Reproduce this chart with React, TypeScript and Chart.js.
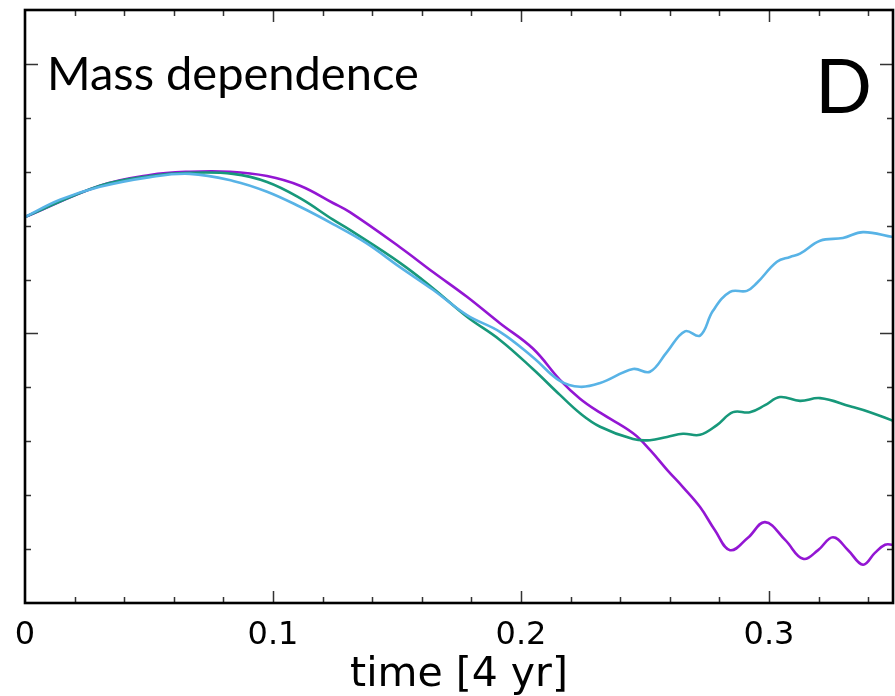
import React, { useEffect, useRef } from "react";
import { Chart, registerables } from "chart.js";

Chart.register(...registerables);

// ---- data (time in units of 4 yr, value in y-tick units) ----
const xTickLabels = ["0", "0.1", "0.2", "0.3"];
const xAxisTitle = "time [4 yr]";
const panelLabel = "Mass dependence";
const panelLetter = "D";

const cyanTime = [0, 0.0141, 0.0302, 0.0504, 0.0665, 0.0839, 0.0976, 0.1109, 0.1242, 0.1375, 0.1512, 0.1645, 0.1782, 0.1915, 0.2048, 0.2157, 0.2238, 0.2319, 0.2452, 0.252, 0.2589, 0.2661, 0.2722, 0.2774, 0.2843, 0.2911, 0.2952, 0.3032, 0.3085, 0.3125, 0.3206, 0.3298, 0.3379, 0.35];
const cyanValue = [7.16, 7.48, 7.72, 7.9, 7.96, 7.83, 7.63, 7.35, 7.03, 6.68, 6.23, 5.81, 5.34, 5.03, 4.56, 4.12, 4.01, 4.08, 4.34, 4.29, 4.66, 5.04, 4.96, 5.42, 5.77, 5.79, 5.94, 6.33, 6.42, 6.48, 6.72, 6.77, 6.88, 6.79];

const greenTime = [0, 0.0302, 0.0504, 0.0665, 0.0839, 0.0976, 0.1109, 0.1242, 0.131, 0.1512, 0.1645, 0.1782, 0.1915, 0.2048, 0.2157, 0.2238, 0.2319, 0.2452, 0.252, 0.2589, 0.2653, 0.2722, 0.279, 0.2855, 0.2923, 0.2984, 0.3044, 0.3125, 0.3206, 0.3327, 0.3407, 0.35];
const greenValue = [7.16, 7.74, 7.92, 7.98, 7.96, 7.81, 7.51, 7.11, 6.92, 6.31, 5.84, 5.31, 4.88, 4.34, 3.86, 3.52, 3.27, 3.04, 3.02, 3.08, 3.14, 3.12, 3.3, 3.54, 3.54, 3.67, 3.82, 3.75, 3.8, 3.65, 3.54, 3.38];

const purpleTime = [0, 0.0302, 0.0504, 0.0665, 0.0827, 0.0976, 0.1109, 0.1242, 0.131, 0.1512, 0.1645, 0.1782, 0.1915, 0.2048, 0.2157, 0.2238, 0.2319, 0.2452, 0.252, 0.2589, 0.2653, 0.2722, 0.2782, 0.2843, 0.2915, 0.2984, 0.3065, 0.3137, 0.3198, 0.3258, 0.3319, 0.3379, 0.3427, 0.3468, 0.35];
const purpleValue = [7.16, 7.74, 7.94, 8.0, 8.0, 7.92, 7.74, 7.42, 7.25, 6.6, 6.14, 5.68, 5.19, 4.72, 4.14, 3.79, 3.53, 3.15, 2.84, 2.47, 2.15, 1.78, 1.35, 0.98, 1.21, 1.5, 1.17, 0.82, 0.98, 1.22, 0.98, 0.71, 0.93, 1.08, 1.08];

const toPoints = (t: number[], v: number[]) => t.map((x, i) => ({ x, y: v[i] }));

const framePlugin = {
  id: "frameTicksText",
  afterDatasetsDraw(chart: any) {
    const { ctx, chartArea } = chart;
    const xs = chart.scales.x;
    const ys = chart.scales.y;
    const { left, right, top, bottom } = chartArea;
    ctx.save();
    // inward ticks
    ctx.strokeStyle = "#333";
    ctx.lineWidth = 1.5;
    ctx.beginPath();
    for (let k = 1; k <= 17; k++) {
      const v = k * 0.02;
      const px = Math.round(xs.getPixelForValue(v)) + 0.5;
      const len = k % 5 === 0 ? 12 : 6;
      ctx.moveTo(px, bottom);
      ctx.lineTo(px, bottom - len);
      ctx.moveTo(px, top);
      ctx.lineTo(px, top + len);
    }
    for (let k = 1; k <= 10; k++) {
      const py = Math.round(ys.getPixelForValue(k)) + 0.5;
      const len = k % 5 === 0 ? 13 : 6;
      ctx.moveTo(left, py);
      ctx.lineTo(left + len, py);
      ctx.moveTo(right, py);
      ctx.lineTo(right - len, py);
    }
    ctx.stroke();
    // frame
    ctx.strokeStyle = "#000";
    ctx.lineWidth = 2.6;
    ctx.strokeRect(left, top, right - left, bottom - top);
    // panel texts
    ctx.fillStyle = "#000";
    ctx.textBaseline = "alphabetic";
    ctx.textAlign = "left";
    ctx.font = "47px Lato";
    ctx.fillText(panelLabel, 47, 90);
    ctx.font = "75px Lato";
    ctx.fillText(panelLetter, 815, 113);
    ctx.restore();
  },
};

const lineStyle = { borderWidth: 2.6, pointRadius: 0, tension: 0.4, fill: false };

export default function App() {
  const canvasRef = useRef<HTMLCanvasElement | null>(null);

  useEffect(() => {
    const canvas = canvasRef.current;
    if (!canvas) return;
    const chart = new Chart(canvas, {
      type: "line",
      data: {
        datasets: [
          { label: "cyan", data: toPoints(cyanTime, cyanValue), borderColor: "#58b3e6", ...lineStyle },
          { label: "green", data: toPoints(greenTime, greenValue), borderColor: "#17987a", ...lineStyle },
          { label: "purple", data: toPoints(purpleTime, purpleValue), borderColor: "#9316d3", ...lineStyle },
        ],
      },
      options: {
        responsive: false,
        animation: false,
        layout: { padding: { left: 25, right: 2, top: 10, bottom: 0 } },
        plugins: { legend: { display: false }, tooltip: { enabled: false } },
        scales: {
          x: {
            type: "linear",
            min: 0,
            max: 0.35,
            position: "bottom",
            border: { display: false },
            grid: { display: false, drawTicks: false },
            ticks: {
              stepSize: 0.1,
              includeBounds: false,
              autoSkip: false,
              maxRotation: 0,
              padding: 13,
              color: "#000",
              font: { family: "DejaVu Sans", size: 32 },
              callback: (value: any) => {
                const i = Math.round(Number(value) * 10);
                return xTickLabels[i] ?? "";
              },
            },
            title: {
              display: true,
              text: xAxisTitle,
              color: "#000",
              font: { family: "DejaVu Sans", size: 41, lineHeight: 1 },
              padding: { top: 0, bottom: 0 },
            },
            afterFit: (scale: any) => {
              scale.height = 93;
            },
          },
          y: {
            type: "linear",
            min: 0,
            max: 11,
            display: false,
          },
        },
      },
      plugins: [framePlugin],
    } as any);
    return () => chart.destroy();
  }, []);

  return (
    <div style={{ position: "absolute", left: 0, top: 0, width: 895, height: 696, background: "#fff" }}>
      <canvas ref={canvasRef} width={895} height={696} />
    </div>
  );
}
